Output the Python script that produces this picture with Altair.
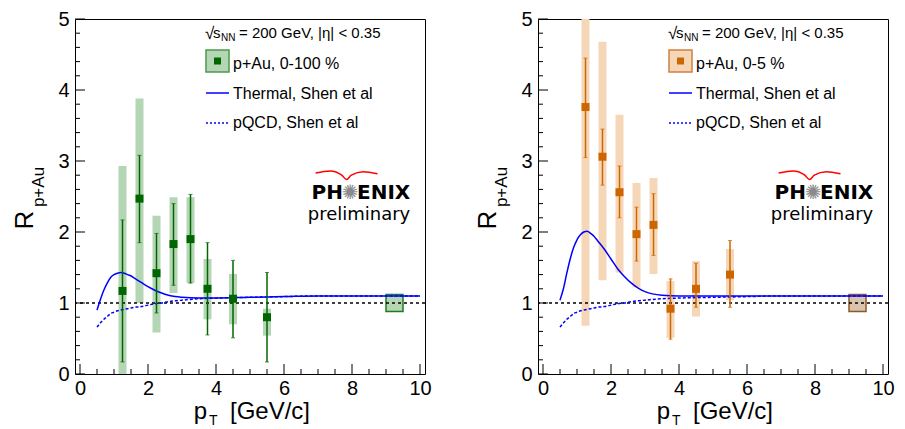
import altair as alt
import pandas as pd

# ---------------- data ----------------
pt = [1.25, 1.75, 2.25, 2.75, 3.25, 3.75, 4.5, 5.5]

# p+Au 0-100 %
r_mb = [1.17, 2.47, 1.42, 1.83, 1.90, 1.20, 1.06, 0.80]
stat_lo_mb = [0.17, 1.85, 0.86, 1.25, 1.28, 0.55, 0.51, 0.17]
stat_hi_mb = [2.17, 3.08, 1.98, 2.40, 2.53, 1.85, 1.60, 1.43]
sys_lo_mb = [0.0, 1.00, 0.585, 1.14, 1.28, 0.77, 0.70, 0.54]
sys_hi_mb = [2.93, 3.88, 2.23, 2.49, 2.49, 1.62, 1.41, 0.92]

# p+Au 0-5 %
r_c = [3.76, 3.06, 2.56, 1.97, 2.10, 0.92, 1.20, 1.40]
stat_lo_c = [3.05, 2.66, 2.20, 1.59, 1.67, 0.49, 0.94, 0.94]
stat_hi_c = [4.45, 3.45, 2.93, 2.35, 2.54, 1.34, 1.56, 1.88]
sys_lo_c = [0.68, 1.32, 1.43, 1.22, 1.41, 0.51, 0.81, 1.04]
sys_hi_c = [5.2, 4.68, 3.65, 2.69, 2.76, 1.31, 1.59, 1.76]

# global normalisation box
norm_x = [9.0]
norm_x2 = [9.5]
norm_lo = [0.88]
norm_hi = [1.12]

# theory curves (Shen et al)
curve_pt = [0.5, 0.6, 0.7, 0.8, 0.9, 1.0, 1.1, 1.2, 1.3, 1.4, 1.5, 1.6, 1.8, 2.0,
            2.2, 2.4, 2.6, 2.8, 3.0, 3.5, 4.0, 5.0, 6.0, 7.0, 8.0, 9.0, 10.0]
thermal_mb = [0.90, 1.05, 1.18, 1.28, 1.36, 1.40, 1.42, 1.43, 1.42, 1.40, 1.38, 1.35, 1.29, 1.23,
              1.18, 1.14, 1.11, 1.09, 1.08, 1.07, 1.07, 1.08, 1.09, 1.10, 1.10, 1.10, 1.10]
thermal_c = [1.04, 1.20, 1.42, 1.62, 1.78, 1.89, 1.96, 2.00, 2.01, 1.98, 1.94, 1.88, 1.76, 1.62,
             1.48, 1.37, 1.28, 1.21, 1.16, 1.11, 1.10, 1.10, 1.10, 1.10, 1.10, 1.10, 1.10]
pqcd = [0.66, 0.72, 0.77, 0.81, 0.85, 0.87, 0.89, 0.90, 0.91, 0.92, 0.93, 0.94, 0.95, 0.97,
        0.99, 1.00, 1.02, 1.03, 1.04, 1.06, 1.07, 1.08, 1.09, 1.10, 1.10, 1.10, 1.10]

unity = [1.0]

# axis ticks
x_labels = [0, 2, 4, 6, 8, 10]
x_minor = [0.5, 1, 1.5, 2.5, 3, 3.5, 4.5, 5, 5.5, 6.5, 7, 7.5, 8.5, 9, 9.5]
y_labels = [0, 1, 2, 3, 4, 5]
y_minor = [0.2, 0.4, 0.6, 0.8, 1.2, 1.4, 1.6, 1.8, 2.2, 2.4, 2.6, 2.8,
           3.2, 3.4, 3.6, 3.8, 4.2, 4.4, 4.6, 4.8]

# PHENIX logo arc (decoration)
arc_x = [6.93, 7.36, 7.70, 7.84, 7.98, 8.33, 8.75]
arc_y = [2.83, 2.86, 2.80, 2.74, 2.80, 2.85, 2.82]

header = "= 200 GeV, |η| < 0.35"
thermal_label = "Thermal, Shen et al"
pqcd_label = "pQCD, Shen et al"

# ---------------- chart ----------------
W, H = 350, 355
FONT = "Liberation Sans"
LOGO_FONT = "DejaVu Sans"

xs = alt.Scale(domain=[0, 10], nice=False, zero=False)
ys = alt.Scale(domain=[0, 5], nice=False, zero=False)
xaxis = alt.Axis(values=x_labels, labelFontSize=20, labelFont=FONT, labelColor="black",
                 ticks=False, domain=False, grid=False, title=None, labelPadding=4,
                 labelFlush=False, labelOverlap=False)
yaxis = alt.Axis(values=y_labels, labelFontSize=20, labelFont=FONT, labelColor="black",
                 ticks=False, domain=False, grid=False, title=None, labelPadding=6,
                 labelFlush=False, labelOverlap=False)

one = pd.DataFrame({"k": [0]})


def X(f):
    return alt.X(f, type="quantitative", scale=xs, axis=xaxis)


def Y(f):
    return alt.Y(f, type="quantitative", scale=ys, axis=yaxis)


def txt(s, x, y, size, align="left", baseline="alphabetic", angle=0, font=FONT,
        color="black", weight="normal"):
    return alt.Chart(one).mark_text(text=s, x=x, y=y, fontSize=size, align=align,
                                    baseline=baseline, angle=angle, font=font,
                                    color=color, fontWeight=weight)


def panel(r, elo, ehi, slo, shi, thermal, mcol, sysfill, legstroke, nfill, nstroke, label):
    pts = pd.DataFrame(dict(pt=pt, r=r, elo=elo, ehi=ehi, slo=slo, shi=shi))
    curves = pd.DataFrame(dict(pt=curve_pt, thermal=thermal, pqcd=pqcd))
    norm = pd.DataFrame(dict(x=norm_x, x2=norm_x2, lo=norm_lo, hi=norm_hi))
    arc = pd.DataFrame(dict(x=arc_x, y=arc_y))

    layers = []
    # systematic boxes
    layers.append(alt.Chart(pts).mark_bar(size=8, color=sysfill, clip=True).encode(
        x=X("pt"), y=Y("slo"), y2="shi"))
    # normalisation box
    layers.append(alt.Chart(norm).mark_rect(fill=nfill, stroke=nstroke, strokeWidth=1.5).encode(
        x=X("x"), x2="x2", y=Y("lo"), y2="hi"))
    # unity line
    layers.append(alt.Chart(pd.DataFrame({"u": unity})).mark_rule(
        color="black", strokeDash=[3, 3], strokeWidth=1.3).encode(y=Y("u")))
    # theory
    layers.append(alt.Chart(curves).mark_line(color="#0000ff", strokeWidth=1.5,
                                              interpolate="monotone", clip=True).encode(
        x=X("pt"), y=Y("thermal")))
    layers.append(alt.Chart(curves).mark_line(color="#0000ff", strokeWidth=1.5,
                                              strokeDash=[3, 2], interpolate="monotone",
                                              clip=True).encode(
        x=X("pt"), y=Y("pqcd")))
    # stat error bars
    layers.append(alt.Chart(pts).mark_rule(color=mcol, strokeWidth=1.5).encode(
        x=X("pt"), y=Y("elo"), y2="ehi"))
    layers.append(alt.Chart(pts).mark_tick(color=mcol, orient="horizontal", size=4,
                                           thickness=1).encode(x=X("pt"), y=Y("elo")))
    layers.append(alt.Chart(pts).mark_tick(color=mcol, orient="horizontal", size=4,
                                           thickness=1).encode(x=X("pt"), y=Y("ehi")))
    # markers
    layers.append(alt.Chart(pts).mark_square(size=64, color=mcol, opacity=1).encode(
        x=X("pt"), y=Y("r")))

    # inner ticks
    layers.append(alt.Chart(pd.DataFrame({"v": x_labels})).mark_rule(color="black").encode(
        x=X("v"), y=alt.value(H), y2=alt.value(H - 10)))
    layers.append(alt.Chart(pd.DataFrame({"v": x_minor})).mark_rule(color="black").encode(
        x=X("v"), y=alt.value(H), y2=alt.value(H - 5)))
    layers.append(alt.Chart(pd.DataFrame({"v": y_labels})).mark_rule(color="black").encode(
        y=Y("v"), x=alt.value(0), x2=alt.value(10)))
    layers.append(alt.Chart(pd.DataFrame({"v": y_minor})).mark_rule(color="black").encode(
        y=Y("v"), x=alt.value(0), x2=alt.value(5)))

    # legend
    layers.append(txt("√", 130, 20, 17))
    layers.append(txt("s", 138, 19, 15))
    layers.append(txt("NN", 146, 22, 10))
    layers.append(txt(header, 164, 19, 15))
    layers.append(alt.Chart(one).mark_rect(fill=sysfill, stroke=legstroke, strokeWidth=1.5).encode(
        x=alt.value(131), x2=alt.value(154), y=alt.value(31), y2=alt.value(53)))
    layers.append(alt.Chart(one).mark_square(size=49, color=mcol, opacity=1).encode(
        x=alt.value(142.5), y=alt.value(42)))
    layers.append(txt(label, 158, 45, 16, baseline="middle"))
    layers.append(alt.Chart(one).mark_rule(color="#0000ff", strokeWidth=1.5).encode(
        x=alt.value(131), x2=alt.value(154), y=alt.value(74)))
    layers.append(txt(thermal_label, 158, 75, 16, baseline="middle"))
    layers.append(alt.Chart(one).mark_rule(color="#0000ff", strokeWidth=1.5, strokeDash=[2, 2]).encode(
        x=alt.value(131), x2=alt.value(154), y=alt.value(104)))
    layers.append(txt(pqcd_label, 158, 104, 16, baseline="middle"))

    # PHENIX preliminary logo
    layers.append(alt.Chart(arc).mark_line(color="#ff0000", strokeWidth=1.5,
                                           interpolate="monotone").encode(
        x=X("x"), y=Y("y")))
    layers.append(txt("PH", 268, 174, 20, align="right", baseline="middle",
                      font=LOGO_FONT, weight="bold"))
    layers.append(txt("✺", 275, 174, 20, align="center", baseline="middle",
                      font=LOGO_FONT, color="#8a8a8a"))
    layers.append(txt("ENIX", 282, 174, 20, align="left", baseline="middle",
                      font=LOGO_FONT, weight="bold"))
    layers.append(txt("preliminary", 284, 196, 18, align="center", baseline="middle",
                      font=LOGO_FONT))

    # axis titles
    layers.append(txt("R", -50, 201, 26, align="center", baseline="middle", angle=270))
    layers.append(txt("p+Au", -36, 168, 17, align="center", baseline="middle", angle=270))
    layers.append(txt("p", 132, 400, 24, align="right"))
    layers.append(txt("T", 134, 406, 14, align="left"))
    layers.append(txt("[GeV/c]", 155, 400, 24, align="left"))

    return alt.layer(*layers).properties(width=W, height=H)


left = panel(r_mb, stat_lo_mb, stat_hi_mb, sys_lo_mb, sys_hi_mb, thermal_mb,
             "#006600", "#b4d6b4", "#4d994d", "#b4d6b4", "#1e7b1e", "p+Au, 0-100 %")
right = panel(r_c, stat_lo_c, stat_hi_c, sys_lo_c, sys_hi_c, thermal_c,
              "#cc6600", "#f5d7b8", "#d08040", "#d9c3ad", "#8b5a2b", "p+Au, 0-5 %")

chart = alt.hconcat(left, right, spacing=113, bounds="flush").properties(
    padding={"left": 3, "top": 0, "right": 0, "bottom": 0}
).configure_view(stroke="black", strokeWidth=1)

chart.save("out.html", embed_options={"renderer": "svg", "actions": False})
